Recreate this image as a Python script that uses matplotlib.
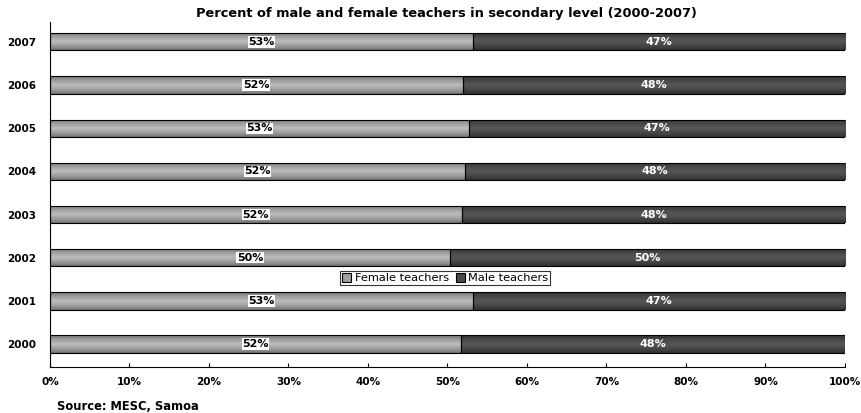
import numpy as np
import matplotlib.pyplot as plt

years = ['2000', '2001', '2002', '2003', '2004', '2005', '2006', '2007']
female = [51.7, 53.2, 50.3, 51.8, 52.2, 52.7, 51.9, 53.2]
male = [100 - f for f in female]
female_lbl = ['52%', '53%', '50%', '52%', '52%', '53%', '52%', '53%']
male_lbl = ['48%', '47%', '50%', '48%', '48%', '47%', '48%', '47%']

plt.rcParams['font.family'] = ['DejaVu Sans']

fig = plt.figure(figsize=(8.62, 4.13), dpi=100)
ax = fig.add_axes([50 / 862, 46 / 413, 795 / 862, 345 / 413])

y = np.arange(len(years))
h = 0.4
b1 = ax.barh(y, female, height=h, color='#a0a0a0', edgecolor='black', linewidth=0.8,
             label='Female teachers', zorder=2)
b2 = ax.barh(y, male, left=female, height=h, color='#4a4a4a', edgecolor='black', linewidth=0.8,
             label='Male teachers', zorder=2)


def shade(bars, dark, light):
    # vertical gradient: darker at top/bottom edges, lighter in the middle
    t = np.linspace(0, 1, 64)
    g = 1 - np.abs(t - 0.5) * 2
    c = dark + (light - dark) * g ** 0.7
    img = np.dstack([c, c, c]).reshape(64, 1, 3)
    for p in bars:
        x0, y0 = p.get_x(), p.get_y()
        im = ax.imshow(img, extent=[x0, x0 + p.get_width(), y0, y0 + p.get_height()],
                       aspect='auto', zorder=2.5, interpolation='bilinear')
        im.set_clip_path(p)


shade(b1, 0.42, 0.74)
shade(b2, 0.18, 0.34)
for p in list(b1) + list(b2):
    p.set_zorder(3)
    p.set_facecolor('none')

for i in range(len(years)):
    ax.text(female[i] / 2, y[i], female_lbl[i], ha='center', va='center', fontsize=8,
            fontweight='bold', color='black', zorder=4,
            bbox=dict(facecolor='white', edgecolor='none', pad=0.5))
    ax.text(female[i] + male[i] / 2, y[i], male_lbl[i], ha='center', va='center', fontsize=8,
            fontweight='bold', color='white', zorder=4)

ax.set_xlim(0, 100)
ax.set_ylim(-0.53, 7.46)
ax.set_xticks(np.arange(0, 101, 10))
ax.set_xticklabels([f'{v}%' for v in range(0, 101, 10)])
ax.set_yticks(y)
ax.set_yticklabels(years)
for lab in ax.get_xticklabels() + ax.get_yticklabels():
    lab.set_fontweight('bold')
    lab.set_fontsize(7.5)
ax.tick_params(axis='x', direction='in', length=3, pad=7)
ax.tick_params(axis='y', length=0, pad=10)
ax.spines['top'].set_visible(False)
ax.spines['right'].set_visible(False)

h1 = plt.Rectangle((0, 0), 1, 1, facecolor='#a0a0a0', edgecolor='black', linewidth=0.8)
h2 = plt.Rectangle((0, 0), 1, 1, facecolor='#4a4a4a', edgecolor='black', linewidth=0.8)
leg = ax.legend([h1, h2], ['Female teachers', 'Male teachers'], loc='center',
                bbox_to_anchor=(0.497, 0.258), ncol=2, fontsize=8.2, frameon=True,
                fancybox=False, edgecolor='black', handlelength=0.8, handleheight=0.8,
                handletextpad=0.3, columnspacing=0.6, borderpad=0.2, borderaxespad=0)
leg.get_frame().set_linewidth(0.8)
leg.set_zorder(5)

fig.text(446 / 862, 1 - 13 / 413, 'Percent of male and female teachers in secondary level (2000-2007)',
         ha='center', va='center', fontsize=9.4, fontweight='bold')
fig.text(57 / 862, 1 - 406 / 413, 'Source: MESC, Samoa', ha='left', va='center',
         fontsize=8.3, fontweight='bold')

fig.savefig('out.png', dpi=100)
